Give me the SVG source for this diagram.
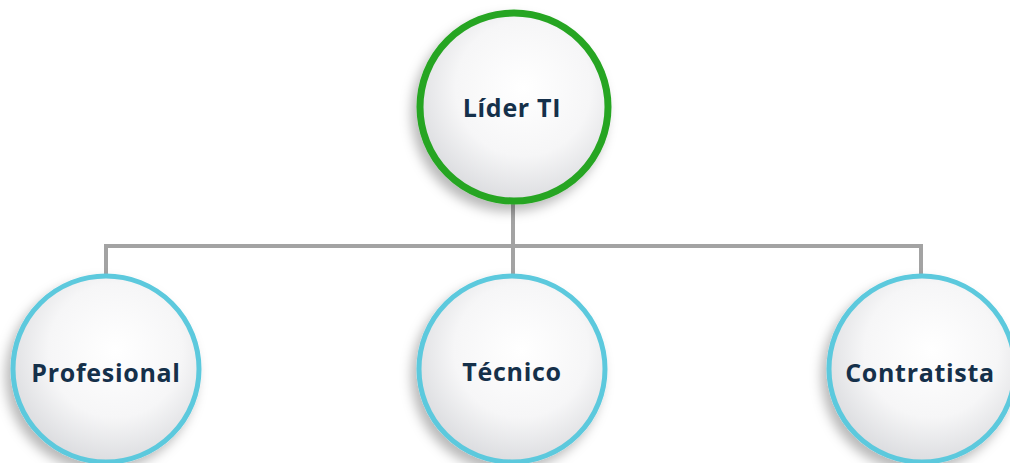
<svg xmlns="http://www.w3.org/2000/svg" width="1010" height="463" viewBox="0 0 1010 463">
<defs>
<radialGradient id="fill" cx="0.55" cy="0.4" r="0.6">
<stop offset="0" stop-color="#ffffff"/>
<stop offset="0.6" stop-color="#f6f6f7"/>
<stop offset="1" stop-color="#dcdde0"/>
</radialGradient>
<filter id="sh" x="-30%" y="-30%" width="160%" height="160%">
<feDropShadow dx="-5" dy="7" stdDeviation="6" flood-color="#000" flood-opacity="0.28"/>
</filter>
</defs>
<style>
.conn{fill:none;stroke:#a3a3a3;stroke-width:4}
.lead{fill:url(#fill);stroke:#27a523;stroke-width:7;filter:url(#sh)}
.sub{fill:url(#fill);stroke:#5cc9dd;stroke-width:5;filter:url(#sh)}
.lbl{font-family:"Open Sans","Liberation Sans",sans-serif;font-weight:700;font-size:25px;letter-spacing:0.7px;fill:#15304a;text-anchor:middle}
</style>
<rect width="1010" height="463" fill="#ffffff"/>
<g id="connectors">
<path class="conn" d="M513 200 V246"/>
<path class="conn" d="M106 276 V246 H921 V276"/>
<path class="conn" d="M513 246 V276"/>
</g>
<g id="lider">
<circle class="lead" cx="514" cy="107" r="94"/>
<text class="lbl" x="512" y="117">Líder TI</text>
</g>
<g id="profesional">
<circle class="sub" cx="106" cy="369" r="93"/>
<text class="lbl" x="106" y="382">Profesional</text>
</g>
<g id="tecnico">
<circle class="sub" cx="512" cy="369" r="93"/>
<text class="lbl" x="512" y="381">Técnico</text>
</g>
<g id="contratista">
<circle class="sub" cx="922" cy="369" r="93"/>
<text class="lbl" x="920" y="382">Contratista</text>
</g>
</svg>
